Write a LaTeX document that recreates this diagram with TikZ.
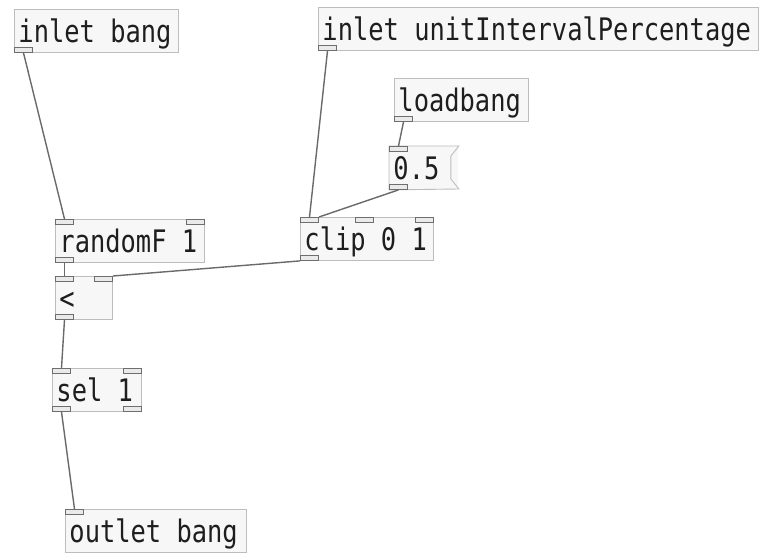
\documentclass[tikz,border=0pt]{standalone}
\usepackage{fontspec}
\usepackage{graphicx}
\newfontfamily\pdfont{DejaVu Sans Mono}
% narrow the monospaced face horizontally, with full-width spaces
\newcommand\pdt[1]{\scalebox{0.82}[1]{\spaceskip=0.602em\relax #1}}
\definecolor{boxline}{HTML}{BDBDBD}
\definecolor{boxfill}{HTML}{F7F7F7}
\definecolor{portline}{HTML}{6E6E6E}
\definecolor{portfill}{HTML}{EAEAEA}
\definecolor{wire}{HTML}{6A6A6A}
\definecolor{txt}{HTML}{1E1E1E}
\tikzset{
  pdbox/.style={draw=boxline, fill=boxfill, line width=0.9pt, anchor=north west,
    inner xsep=4pt, inner ysep=0pt, text height=33pt, text depth=10pt,
    text width=#1, align=left, font=\pdfont\fontsize{31}{34}\selectfont, text=txt},
  port/.style={draw=portline, fill=portfill, line width=1pt, inner sep=0pt,
    minimum width=18pt, minimum height=5pt},
  wire/.style={draw=wire, line width=1.4pt}
}
\begin{document}
\begin{tikzpicture}[x=1pt, y=-1pt]
\useasboundingbox[fill=white] (0,0) rectangle (761,554);

% objects
\node[pdbox=156pt] (inbang) at (14,9) {\pdt{inlet bang}};
\node[pdbox=432pt] (inunit) at (318,7) {\pdt{inlet unitIntervalPercentage}};
\node[pdbox=126pt] (load) at (394,78) {\pdt{loadbang}};
\node[pdbox=61pt, draw=none] (msg) at (389,146) {\pdt{0.5}};
\draw[draw=boxline, line width=0.9pt] (msg.north west) -- (msg.north east)
  -- ++(-8,10) -- ++(0,23) -- ++(8,10) -- (msg.south west) -- cycle;
\node[pdbox=125pt] (clip) at (300,217) {\pdt{clip 0 1}};
\node[pdbox=141pt] (rnd) at (55,219) {\pdt{randomF 1}};
\node[pdbox=49pt] (lt) at (55,276) {\pdt{<}};
\node[pdbox=81pt] (sel) at (52,368) {\pdt{sel 1}};
\node[pdbox=173pt] (outbang) at (65,509) {\pdt{outlet bang}};

% inlets and outlets
\node[port, anchor=south west] (inbangO) at (inbang.south west) {};
\node[port, anchor=south west] (inunitO) at (inunit.south west) {};
\node[port, anchor=south west] (loadO) at (load.south west) {};
\node[port, anchor=north west] (msgI) at (msg.north west) {};
\node[port, anchor=south west] (msgO) at (msg.south west) {};
\node[port, anchor=north west] (clipI1) at (clip.north west) {};
\node[port, anchor=north west] (clipI2) at (355,217) {};
\node[port, anchor=north east] (clipI3) at (clip.north east) {};
\node[port, anchor=south west] (clipO) at (clip.south west) {};
\node[port, anchor=north west] (rndI1) at (rnd.north west) {};
\node[port, anchor=north east] (rndI2) at (rnd.north east) {};
\node[port, anchor=south west] (rndO) at (rnd.south west) {};
\node[port, anchor=north west] (ltI1) at (lt.north west) {};
\node[port, anchor=north east] (ltI2) at (lt.north east) {};
\node[port, anchor=south west] (ltO) at (lt.south west) {};
\node[port, anchor=north west] (selI1) at (sel.north west) {};
\node[port, anchor=north east] (selI2) at (sel.north east) {};
\node[port, anchor=south west] (selO1) at (sel.south west) {};
\node[port, anchor=south east] (selO2) at (sel.south east) {};
\node[port, anchor=north west] (outbangI) at (outbang.north west) {};

% connections
\draw[wire] (inbangO.south) -- (rndI1.north);
\draw[wire] (inunitO.south) -- (clipI1.north);
\draw[wire] (loadO.south) -- (msgI.north);
\draw[wire] (msgO.south) -- (clipI1.north east);
\draw[wire] (clipO.south west) -- (ltI2.north east);
\draw[wire] (rndO.south) -- (ltI1.north);
\draw[wire] (ltO.south) -- (selI1.north);
\draw[wire] (selO1.south) -- (outbangI.north);
\end{tikzpicture}
\end{document}
